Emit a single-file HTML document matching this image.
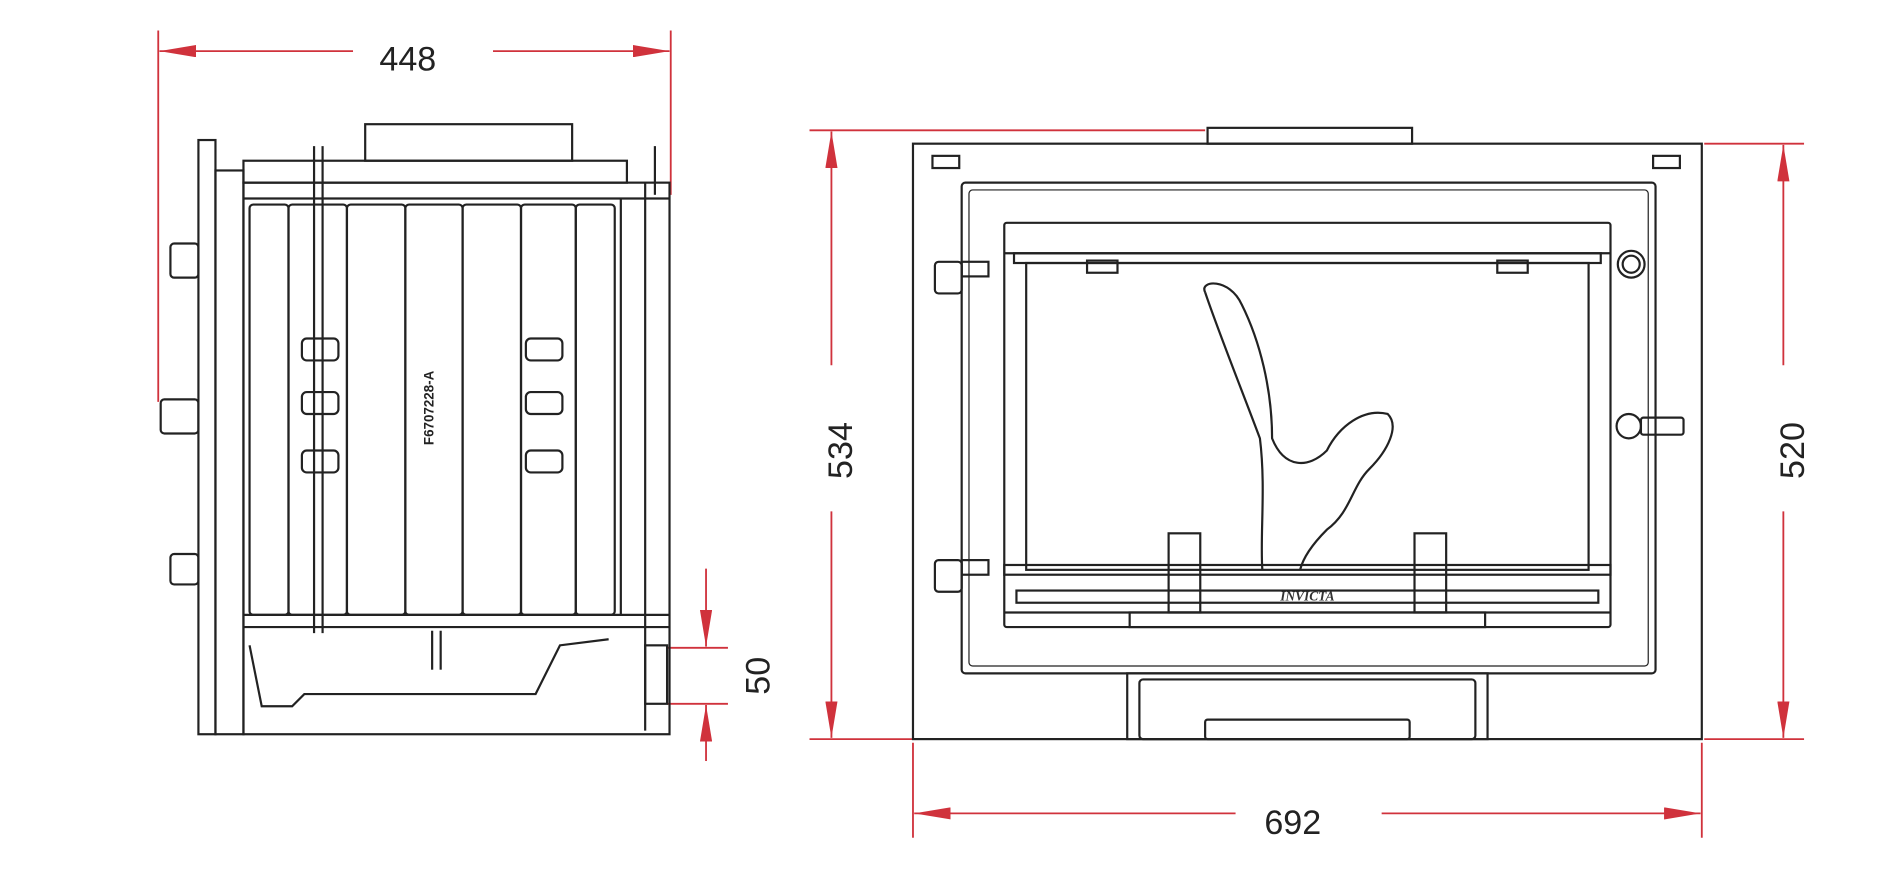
<!DOCTYPE html>
<html><head><meta charset="utf-8"><style>html,body{margin:0;padding:0;background:#fff}svg{display:block}</style></head><body>
<svg width="1899" height="884" viewBox="0 0 1560 726" preserveAspectRatio="none" xmlns="http://www.w3.org/2000/svg">
<defs>
<marker id="a" viewBox="0 0 30 10" refX="30" refY="5" markerWidth="30" markerHeight="10" orient="auto-start-reverse" markerUnits="userSpaceOnUse"><path d="M0,0L30,5L0,10z" fill="#d0323c"/></marker>
</defs>
<g stroke="#d0323c" stroke-width="1.5" fill="none">
<line x1="130" y1="25" x2="130" y2="330"/><line x1="551" y1="25" x2="551" y2="160"/>
<line x1="290" y1="42" x2="131" y2="42" marker-end="url(#a)"/><line x1="405" y1="42" x2="550" y2="42" marker-end="url(#a)"/>
<line x1="548" y1="532" x2="598" y2="532"/><line x1="548" y1="578" x2="598" y2="578"/>
<line x1="580" y1="467" x2="580" y2="531" marker-end="url(#a)"/><line x1="580" y1="625" x2="580" y2="579" marker-end="url(#a)"/>
<line x1="665" y1="107" x2="990" y2="107"/><line x1="665" y1="607" x2="750" y2="607"/>
<line x1="683" y1="300" x2="683" y2="108" marker-end="url(#a)"/><line x1="683" y1="420" x2="683" y2="606" marker-end="url(#a)"/>
<line x1="1400" y1="118" x2="1482" y2="118"/><line x1="1400" y1="607" x2="1482" y2="607"/>
<line x1="1465" y1="300" x2="1465" y2="119" marker-end="url(#a)"/><line x1="1465" y1="420" x2="1465" y2="606" marker-end="url(#a)"/>
<line x1="750" y1="610" x2="750" y2="688"/><line x1="1398" y1="610" x2="1398" y2="688"/>
<line x1="1015" y1="668" x2="751" y2="668" marker-end="url(#a)"/><line x1="1135" y1="668" x2="1397" y2="668" marker-end="url(#a)"/>
</g>
<g font-family="Liberation Sans, sans-serif" font-size="28" fill="#222" text-anchor="middle">
<text x="335" y="58">448</text>
<text x="1062" y="685">692</text>
<text transform="translate(700,370) rotate(-90)">534</text>
<text transform="translate(1482,370) rotate(-90)">520</text>
<text transform="translate(632,555) rotate(-90)">50</text>
</g>
<g stroke="#222" stroke-width="1.8" fill="none">
<rect x="300" y="102" width="170" height="30"/>
<rect x="200" y="132" width="315" height="18"/>
<rect x="163" y="115" width="14" height="488"/>
<rect x="177" y="140" width="23" height="463"/>
<rect x="200" y="150" width="350" height="453"/>
<line x1="200" y1="163" x2="550" y2="163"/>
<line x1="200" y1="505" x2="550" y2="505"/><line x1="200" y1="515" x2="550" y2="515"/>
<rect x="205" y="168" width="32" height="337" rx="3"/>
<rect x="237" y="168" width="48" height="337" rx="3"/>
<rect x="285" y="168" width="48" height="337" rx="3"/>
<rect x="333" y="168" width="47" height="337" rx="3"/>
<rect x="380" y="168" width="48" height="337" rx="3"/>
<rect x="428" y="168" width="45" height="337" rx="3"/>
<rect x="473" y="168" width="32" height="337" rx="3"/>
<line x1="510" y1="163" x2="510" y2="505"/><line x1="530" y1="150" x2="530" y2="600"/>
<line x1="258" y1="120" x2="258" y2="520"/><line x1="265" y1="120" x2="265" y2="520"/>
<line x1="538" y1="120" x2="538" y2="160"/>
<rect x="248" y="278" width="30" height="18" rx="4"/><rect x="248" y="322" width="30" height="18" rx="4"/><rect x="248" y="370" width="30" height="18" rx="4"/>
<rect x="432" y="278" width="30" height="18" rx="4"/><rect x="432" y="322" width="30" height="18" rx="4"/><rect x="432" y="370" width="30" height="18" rx="4"/>
<rect x="140" y="200" width="23" height="28" rx="3"/><rect x="132" y="328" width="31" height="28" rx="3"/><rect x="140" y="455" width="23" height="25" rx="3"/>
<rect x="530" y="530" width="18" height="48"/>
<path d="M205 530 L215 580 L240 580 L250 570 L440 570 L460 530 L500 525"/>
<line x1="355" y1="518" x2="355" y2="550"/><line x1="362" y1="518" x2="362" y2="550"/>
<rect x="992" y="105" width="168" height="13"/>
<rect x="750" y="118" width="648" height="489"/>
<rect x="766" y="128" width="22" height="10"/><rect x="1358" y="128" width="22" height="10"/>
<rect x="790" y="150" width="570" height="403" rx="3"/>
<rect x="796" y="156" width="558" height="391" rx="3" stroke-width="1"/>
<rect x="825" y="183" width="498" height="332" rx="2"/>
<line x1="825" y1="208" x2="1323" y2="208"/>
<rect x="833" y="208" width="482" height="8"/>
<rect x="843" y="216" width="462" height="252"/>
<rect x="893" y="214" width="25" height="10"/><rect x="1230" y="214" width="25" height="10"/>
<rect x="825" y="464" width="498" height="8"/>
<rect x="835" y="485" width="478" height="10"/>
<line x1="825" y1="503" x2="1323" y2="503"/>
<rect x="928" y="503" width="292" height="12"/>
<rect x="960" y="438" width="26" height="65"/><rect x="1162" y="438" width="26" height="65"/>
<rect x="926" y="553" width="296" height="54"/>
<rect x="936" y="558" width="276" height="49" rx="3"/>
<rect x="990" y="591" width="168" height="16" rx="2"/>
<rect x="768" y="215" width="22" height="26" rx="3"/><rect x="790" y="215" width="22" height="12"/>
<rect x="768" y="460" width="22" height="26" rx="3"/><rect x="790" y="460" width="22" height="12"/>
<circle cx="1340" cy="217" r="11"/><circle cx="1340" cy="217" r="7"/>
<circle cx="1338" cy="350" r="10"/><rect x="1348" y="343" width="35" height="14" rx="2"/>
<path d="M990 240 C 985 230, 1010 228, 1020 250 C 1035 280, 1045 320, 1045 360 C 1055 385, 1075 385, 1090 370 C 1100 350, 1120 335, 1140 340 C 1150 350, 1140 370, 1125 385 C 1110 400, 1110 420, 1090 435 C 1075 450, 1070 460, 1068 468"/>
<path d="M990 240 C 1000 270, 1020 320, 1035 360 C 1040 400, 1035 440, 1037 468"/>
</g>
<text transform="translate(356,335) rotate(-90)" font-family="Liberation Sans, sans-serif" font-size="11" font-weight="bold" fill="#222" text-anchor="middle">F6707228-A</text>
<text x="1074" y="493" font-family="Liberation Serif, serif" font-size="11" font-style="italic" font-weight="bold" fill="#333" text-anchor="middle">INVICTA</text>
</svg>
</body></html>
